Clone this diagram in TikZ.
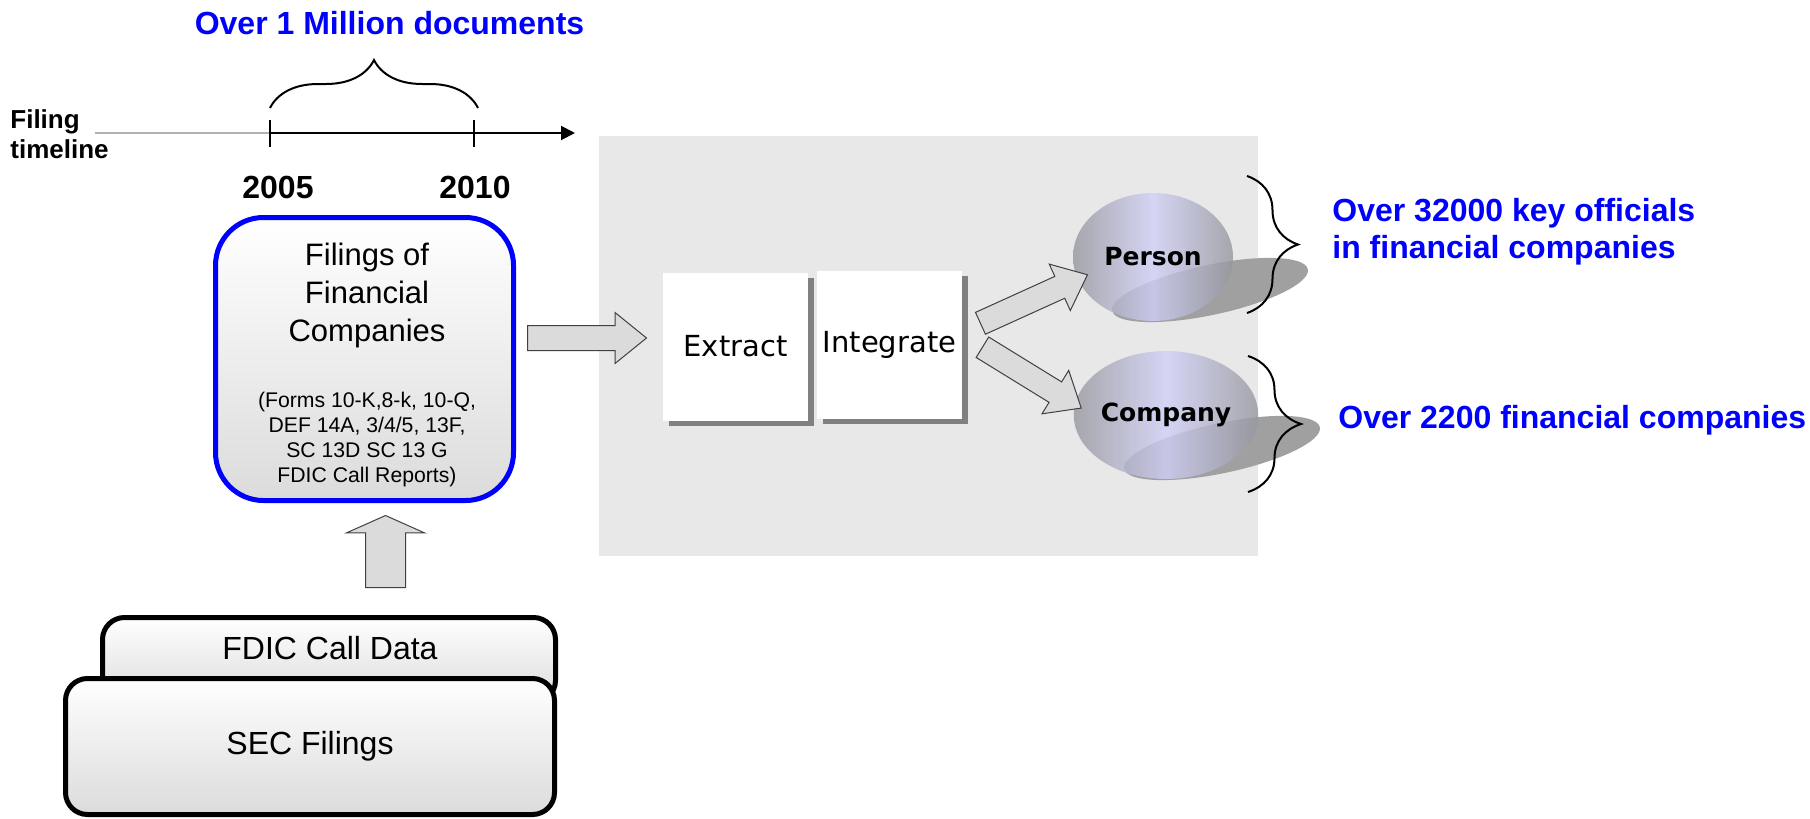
\documentclass[tikz,border=0pt]{standalone}
\usepackage{fontspec}
\setmainfont{Liberation Sans}
\newfontfamily\verafont{DejaVu Sans}
\usetikzlibrary{arrows.meta,shapes.geometric,shapes.arrows,shadows,decorations.pathreplacing}
\definecolor{azul}{RGB}{0,0,255}
\definecolor{painel}{RGB}{232,232,232}
\definecolor{lavanda}{RGB}{208,208,248}
\definecolor{cinzaesf}{RGB}{150,150,158}
\definecolor{sombra}{RGB}{160,160,160}

\begin{document}
\begin{tikzpicture}[x=0.5pt,y=-0.5pt]
  \tikzstyle{linhat}=[line width=1pt]
  \tikzstyle{ano}=[font=\bfseries\fontsize{16}{18}\selectfont, inner sep=0pt]
  \tikzstyle{caixa}=[draw, line width=2.5pt, rounded corners=11pt, top color=white, bottom color=gray!28, inner sep=0pt]
  \tikzstyle{rotulo}=[font=\fontsize{16}{19}\selectfont, inner sep=0pt]
  \tikzstyle{etapa}=[fill=white, inner sep=0pt, minimum width=72.5pt, minimum height=74pt, font=\verafont\fontsize{14.5}{17}\selectfont, drop shadow={shadow xshift=2.75pt, shadow yshift=-2.75pt, fill=black!50, opacity=1}]
  \tikzstyle{esfera}=[ellipse, minimum width=80pt, minimum height=64pt, inner sep=0pt, left color=cinzaesf, right color=cinzaesf, middle color=lavanda, fill opacity=0.8, text opacity=1, font=\verafont\bfseries\fontsize{12.5}{15}\selectfont]
  \tikzstyle{seta}=[single arrow, draw=black!75, line width=0.5pt, fill=gray!28, inner xsep=0pt, anchor=tail]
  \tikzstyle{chave}=[decorate, line width=1pt]
  \tikzstyle{azultxt}=[text=azul, font=\bfseries\fontsize{16}{18.5}\selectfont, inner sep=0pt]

  \useasboundingbox (0,0) rectangle (1810,819);

  % linha do tempo das submissoes
  \coordinate (inicio) at (95,133);
  \coordinate (a2005) at (270,133);
  \coordinate (a2010) at (474,133);
  \coordinate (fim) at (575,133);
  \draw[linhat, black!30] (inicio) -- (a2005);
  \draw[linhat, -{Triangle[length=7pt,width=7pt]}] (a2005) -- (fim);
  \foreach \c in {a2005,a2010}
    \draw[linhat] ([yshift=6.5pt]\c) -- ([yshift=-7pt]\c);
  \draw[chave, decoration={brace, amplitude=24pt}] (270,108) -- (478,108);
  \node[azultxt, anchor=base] (titulo) at (389.5,34) {Over 1 Million documents};
  \node[font=\bfseries\fontsize{13}{15}\selectfont, align=left, anchor=north west, inner sep=0pt] (eixo) at (10,109) {Filing\\timeline};
  \node[ano, anchor=base] (y2005) at (278,198) {2005};
  \node[ano, anchor=base] (y2010) at (475,198) {2010};

  % caixa azul com os formularios
  \node[caixa, draw=azul, rounded corners=24pt, minimum width=149pt, minimum height=141.5pt] (filings) at (364.5,359) {};
  \node[font=\fontsize{15.5}{19}\selectfont, align=center, anchor=north, inner sep=0pt] (filtit) at (367,243) {Filings of\\Financial\\Companies};
  \node[font=\fontsize{10.6}{12.5}\selectfont, align=center, anchor=north, inner sep=0pt] (formas) at (367,392) {(Forms 10-K,8-k, 10-Q,\\DEF 14A, 3/4/5, 13F,\\SC 13D SC 13 G\\FDIC Call Reports)};

  % fontes de dados empilhadas
  \node[caixa, minimum width=226.5pt, minimum height=42.5pt] (fdic) at (329,660) {};
  \node[rotulo, anchor=base] (fdictxt) at (330,659) {FDIC Call Data};
  \node[caixa, rotulo, minimum width=244.5pt, minimum height=68pt] (sec) at (310,746.5) {SEC Filings};
  \node[seta, rotate=90, minimum height=36pt, inner ysep=9.75pt, single arrow head extend=9.5pt, single arrow tip angle=132] (sobe) at (385.5,588) {};

  % painel cinza de processamento
  \fill[painel] (599,136) rectangle (1258,556);
  \node[seta, minimum height=59.5pt, inner ysep=6pt, single arrow head extend=6.5pt, single arrow tip angle=78] (entra) at (527,338) {};
  \node[etapa] (extract) at (735.5,346.5) {Extract};
  \node[etapa] (integrate) at (889.5,344.5) {Integrate};

  % sombras e esferas das entidades
  \fill[sombra, rotate around={12:(1210,290)}] (1210,290) ellipse [x radius=100, y radius=25];
  \fill[sombra, rotate around={12:(1222,448)}] (1222,448) ellipse [x radius=100, y radius=25];
  \node[esfera] (person) at (1153,257) {Person};
  \node[esfera] (company) at (1166,415) {Company};
  \node[seta, rotate=24.4, minimum height=58.75pt, inner ysep=5.75pt, single arrow head extend=6.75pt, single arrow tip angle=80] (parap) at (980,323.5) {};
  \node[seta, rotate=-31.6, minimum height=58pt, inner ysep=5.75pt, single arrow head extend=6.75pt, single arrow tip angle=80] (parac) at (982,347) {};

  % chaves e totais
  \draw[chave, decoration={brace, amplitude=25.5pt}] (1247,176) -- (1247,313);
  \draw[chave, decoration={brace, amplitude=26.5pt}] (1248,356) -- (1248,492);
  \node[azultxt, align=left, anchor=north west] (oficiais) at (1332,198) {Over 32000 key officials\\in financial companies};
  \node[azultxt, anchor=base west] (empresas) at (1338,428) {Over 2200 financial companies};
\end{tikzpicture}
\end{document}
